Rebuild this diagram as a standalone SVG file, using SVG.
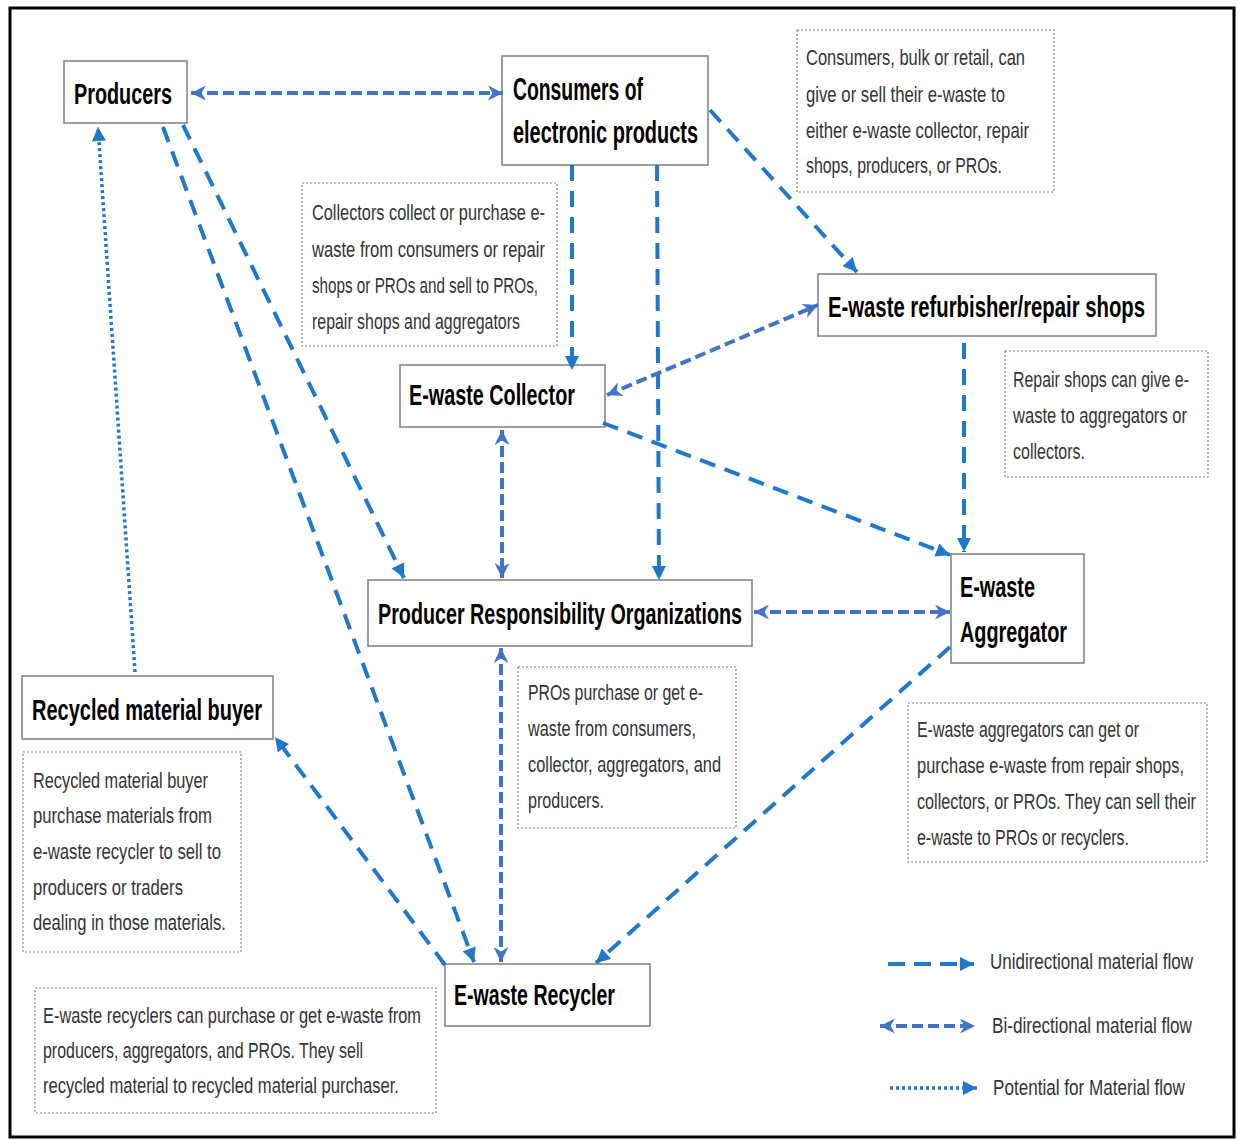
<svg xmlns="http://www.w3.org/2000/svg" width="1238" height="1140" viewBox="0 0 1238 1140">
<style>
.node rect{fill:#fff;stroke:#7f7f7f;stroke-width:1.5}
.nt{font-family:"Liberation Sans",Arial,sans-serif;font-weight:bold;font-size:30px;fill:#000}
.note rect{fill:#fff;stroke:#808080;stroke-width:1.2;stroke-dasharray:2 2}
.at{font-family:"Liberation Sans",Arial,sans-serif;font-size:22px;fill:#333}
.uni{stroke:#1f78c8;stroke-width:4;stroke-dasharray:16 10;fill:none}
.bi{stroke:#4472c4;stroke-width:4;stroke-dasharray:11 5;fill:none}
.pot{stroke:#1f78c8;stroke-width:3.5;stroke-dasharray:3 3;fill:none}
</style>
<defs>
<marker id="ua" viewBox="0 0 10 10" refX="10" refY="5" markerWidth="15" markerHeight="14" markerUnits="userSpaceOnUse" orient="auto"><path d="M0,0 L10,5 L0,10 z" fill="#1f78c8"/></marker>
<marker id="ba" viewBox="0 0 10 10" refX="10" refY="5" markerWidth="15" markerHeight="15" markerUnits="userSpaceOnUse" orient="auto-start-reverse"><path d="M0,0 L10,5 L0,10 L3,5 z" fill="#4472c4"/></marker>
</defs>
<rect x="10" y="8" width="1224" height="1129" fill="#fff" stroke="#000" stroke-width="3"/>

<g id="note-consumers" class="note">
<rect x="797" y="30" width="257" height="162"/>
<text class="at" transform="scale(0.68 1)" x="1185.29" y="65" textLength="322.06" lengthAdjust="spacingAndGlyphs">Consumers, bulk or retail, can</text>
<text class="at" transform="scale(0.68 1)" x="1185.29" y="102" textLength="292.65" lengthAdjust="spacingAndGlyphs">give or sell their e-waste to</text>
<text class="at" transform="scale(0.68 1)" x="1185.29" y="138" textLength="327.94" lengthAdjust="spacingAndGlyphs">either e-waste collector, repair</text>
<text class="at" transform="scale(0.68 1)" x="1185.29" y="173" textLength="288.24" lengthAdjust="spacingAndGlyphs">shops, producers, or PROs.</text>
</g>
<g id="note-collectors" class="note">
<rect x="302" y="183" width="255" height="163"/>
<text class="at" transform="scale(0.68 1)" x="458.82" y="220" textLength="342.65" lengthAdjust="spacingAndGlyphs">Collectors collect or purchase e-</text>
<text class="at" transform="scale(0.68 1)" x="458.82" y="257" textLength="342.65" lengthAdjust="spacingAndGlyphs">waste from consumers or repair</text>
<text class="at" transform="scale(0.68 1)" x="458.82" y="293" textLength="332.35" lengthAdjust="spacingAndGlyphs">shops or PROs and sell to PROs,</text>
<text class="at" transform="scale(0.68 1)" x="458.82" y="329" textLength="305.88" lengthAdjust="spacingAndGlyphs">repair shops and aggregators</text>
</g>
<g id="note-repair" class="note">
<rect x="1005" y="351" width="203" height="126"/>
<text class="at" transform="scale(0.68 1)" x="1489.71" y="387" textLength="258.82" lengthAdjust="spacingAndGlyphs">Repair shops can give e-</text>
<text class="at" transform="scale(0.68 1)" x="1489.71" y="423" textLength="255.88" lengthAdjust="spacingAndGlyphs">waste to aggregators or</text>
<text class="at" transform="scale(0.68 1)" x="1489.71" y="459" textLength="105.88" lengthAdjust="spacingAndGlyphs">collectors.</text>
</g>
<g id="note-pros" class="note">
<rect x="518" y="667" width="218" height="161"/>
<text class="at" transform="scale(0.68 1)" x="776.47" y="700" textLength="257.35" lengthAdjust="spacingAndGlyphs">PROs purchase or get e-</text>
<text class="at" transform="scale(0.68 1)" x="776.47" y="736" textLength="247.06" lengthAdjust="spacingAndGlyphs">waste from consumers,</text>
<text class="at" transform="scale(0.68 1)" x="776.47" y="772" textLength="283.82" lengthAdjust="spacingAndGlyphs">collector, aggregators, and</text>
<text class="at" transform="scale(0.68 1)" x="776.47" y="808" textLength="111.76" lengthAdjust="spacingAndGlyphs">producers.</text>
</g>
<g id="note-aggregator" class="note">
<rect x="908" y="703" width="299" height="159"/>
<text class="at" transform="scale(0.68 1)" x="1348.53" y="737" textLength="326.47" lengthAdjust="spacingAndGlyphs">E-waste aggregators can get or</text>
<text class="at" transform="scale(0.68 1)" x="1348.53" y="773" textLength="392.65" lengthAdjust="spacingAndGlyphs">purchase e-waste from repair shops,</text>
<text class="at" transform="scale(0.68 1)" x="1348.53" y="809" textLength="410.29" lengthAdjust="spacingAndGlyphs">collectors, or PROs. They can sell their</text>
<text class="at" transform="scale(0.68 1)" x="1348.53" y="845" textLength="311.76" lengthAdjust="spacingAndGlyphs">e-waste to PROs or recyclers.</text>
</g>
<g id="note-buyer" class="note">
<rect x="23" y="752" width="218" height="200"/>
<text class="at" transform="scale(0.68 1)" x="48.53" y="788" textLength="257.35" lengthAdjust="spacingAndGlyphs">Recycled material buyer</text>
<text class="at" transform="scale(0.68 1)" x="48.53" y="823" textLength="263.24" lengthAdjust="spacingAndGlyphs">purchase materials from</text>
<text class="at" transform="scale(0.68 1)" x="48.53" y="859" textLength="276.47" lengthAdjust="spacingAndGlyphs">e-waste recycler to sell to</text>
<text class="at" transform="scale(0.68 1)" x="48.53" y="895" textLength="220.59" lengthAdjust="spacingAndGlyphs">producers or traders</text>
<text class="at" transform="scale(0.68 1)" x="48.53" y="930" textLength="283.82" lengthAdjust="spacingAndGlyphs">dealing in those materials.</text>
</g>
<g id="note-recycler" class="note">
<rect x="35" y="988" width="401" height="125"/>
<text class="at" transform="scale(0.68 1)" x="63.24" y="1023" textLength="555.88" lengthAdjust="spacingAndGlyphs">E-waste recyclers can purchase or get e-waste from</text>
<text class="at" transform="scale(0.68 1)" x="63.24" y="1058" textLength="470.59" lengthAdjust="spacingAndGlyphs">producers, aggregators, and PROs. They sell</text>
<text class="at" transform="scale(0.68 1)" x="63.24" y="1093" textLength="523.53" lengthAdjust="spacingAndGlyphs">recycled material to recycled material purchaser.</text>
</g>

<g id="producers" class="node">
<rect x="64" y="61" width="123" height="62"/>
<text class="nt" transform="scale(0.62 1)" x="119.35" y="104" textLength="158.06" lengthAdjust="spacingAndGlyphs">Producers</text>
</g>
<g id="consumers" class="node">
<rect x="502" y="56" width="206" height="109"/>
<text class="nt" transform="scale(0.62 1)" x="827.42" y="100" style="font-size:31px" textLength="209.68" lengthAdjust="spacingAndGlyphs">Consumers of</text>
<text class="nt" transform="scale(0.62 1)" x="827.42" y="143" style="font-size:31px" textLength="298.39" lengthAdjust="spacingAndGlyphs">electronic products</text>
</g>
<g id="refurbisher" class="node">
<rect x="818" y="274" width="338" height="62"/>
<text class="nt" transform="scale(0.62 1)" x="1335.48" y="317" textLength="511.29" lengthAdjust="spacingAndGlyphs">E-waste refurbisher/repair shops</text>
</g>
<g id="collector" class="node">
<rect x="400" y="365" width="205" height="62"/>
<text class="nt" transform="scale(0.62 1)" x="659.68" y="405" textLength="267.74" lengthAdjust="spacingAndGlyphs">E-waste Collector</text>
</g>
<g id="pro" class="node">
<rect x="368" y="580" width="384" height="66"/>
<text class="nt" transform="scale(0.62 1)" x="609.68" y="624" textLength="587.10" lengthAdjust="spacingAndGlyphs">Producer Responsibility Organizations</text>
</g>
<g id="aggregator" class="node">
<rect x="951" y="554" width="133" height="109"/>
<text class="nt" transform="scale(0.62 1)" x="1548.39" y="597" textLength="120.97" lengthAdjust="spacingAndGlyphs">E-waste</text>
<text class="nt" transform="scale(0.62 1)" x="1548.39" y="642" textLength="172.58" lengthAdjust="spacingAndGlyphs">Aggregator</text>
</g>
<g id="buyer" class="node">
<rect x="22" y="676" width="251" height="63"/>
<text class="nt" transform="scale(0.62 1)" x="51.61" y="720" textLength="370.97" lengthAdjust="spacingAndGlyphs">Recycled material buyer</text>
</g>
<g id="recycler" class="node">
<rect x="445" y="964" width="205" height="62"/>
<text class="nt" transform="scale(0.62 1)" x="732.26" y="1005" textLength="259.68" lengthAdjust="spacingAndGlyphs">E-waste Recycler</text>
</g>

<g id="connectors">
<line class="bi" x1="191" y1="93" x2="503" y2="93" marker-start="url(#ba)" marker-end="url(#ba)"/>
<line class="uni" x1="710" y1="110" x2="857" y2="272" marker-end="url(#ua)"/>
<line class="uni" x1="572" y1="165" x2="572" y2="370" marker-end="url(#ua)"/>
<line class="uni" x1="657" y1="165" x2="659" y2="580" marker-end="url(#ua)"/>
<line class="bi" x1="607" y1="395" x2="818" y2="305" marker-start="url(#ba)" marker-end="url(#ba)"/>
<line class="uni" x1="964" y1="343" x2="964" y2="552" marker-end="url(#ua)"/>
<line class="uni" x1="603" y1="423" x2="950" y2="555" marker-end="url(#ua)"/>
<line class="bi" x1="502" y1="430" x2="502" y2="578" marker-start="url(#ba)" marker-end="url(#ba)"/>
<line class="bi" x1="754" y1="612" x2="950" y2="612" marker-start="url(#ba)" marker-end="url(#ba)"/>
<line class="uni" x1="950" y1="647" x2="596" y2="963" marker-end="url(#ua)"/>
<line class="bi" x1="501" y1="648" x2="501" y2="962" marker-start="url(#ba)" marker-end="url(#ba)"/>
<line class="uni" x1="183" y1="125" x2="404" y2="578" marker-end="url(#ua)"/>
<line class="uni" x1="163" y1="127" x2="474" y2="962" marker-end="url(#ua)"/>
<line class="uni" x1="445" y1="965" x2="275" y2="737" marker-end="url(#ua)"/>
<line class="pot" x1="135" y1="672" x2="98" y2="127" marker-end="url(#ua)"/>
</g>

<g id="legend">
<line class="uni" x1="888" y1="964" x2="974" y2="964" style="stroke-dasharray:17 9" marker-end="url(#ua)"/>
<text class="at" transform="scale(0.68 1)" x="1455.88" y="969" textLength="298.53" lengthAdjust="spacingAndGlyphs">Unidirectional material flow</text>
<line class="bi" x1="880" y1="1026" x2="975" y2="1026" marker-start="url(#ba)" marker-end="url(#ba)"/>
<text class="at" transform="scale(0.68 1)" x="1458.82" y="1033" textLength="294.12" lengthAdjust="spacingAndGlyphs">Bi-directional material flow</text>
<line class="pot" x1="890" y1="1088" x2="977" y2="1088" marker-end="url(#ua)"/>
<text class="at" transform="scale(0.68 1)" x="1460.29" y="1095" textLength="282.35" lengthAdjust="spacingAndGlyphs">Potential for Material flow</text>
</g>
</svg>
